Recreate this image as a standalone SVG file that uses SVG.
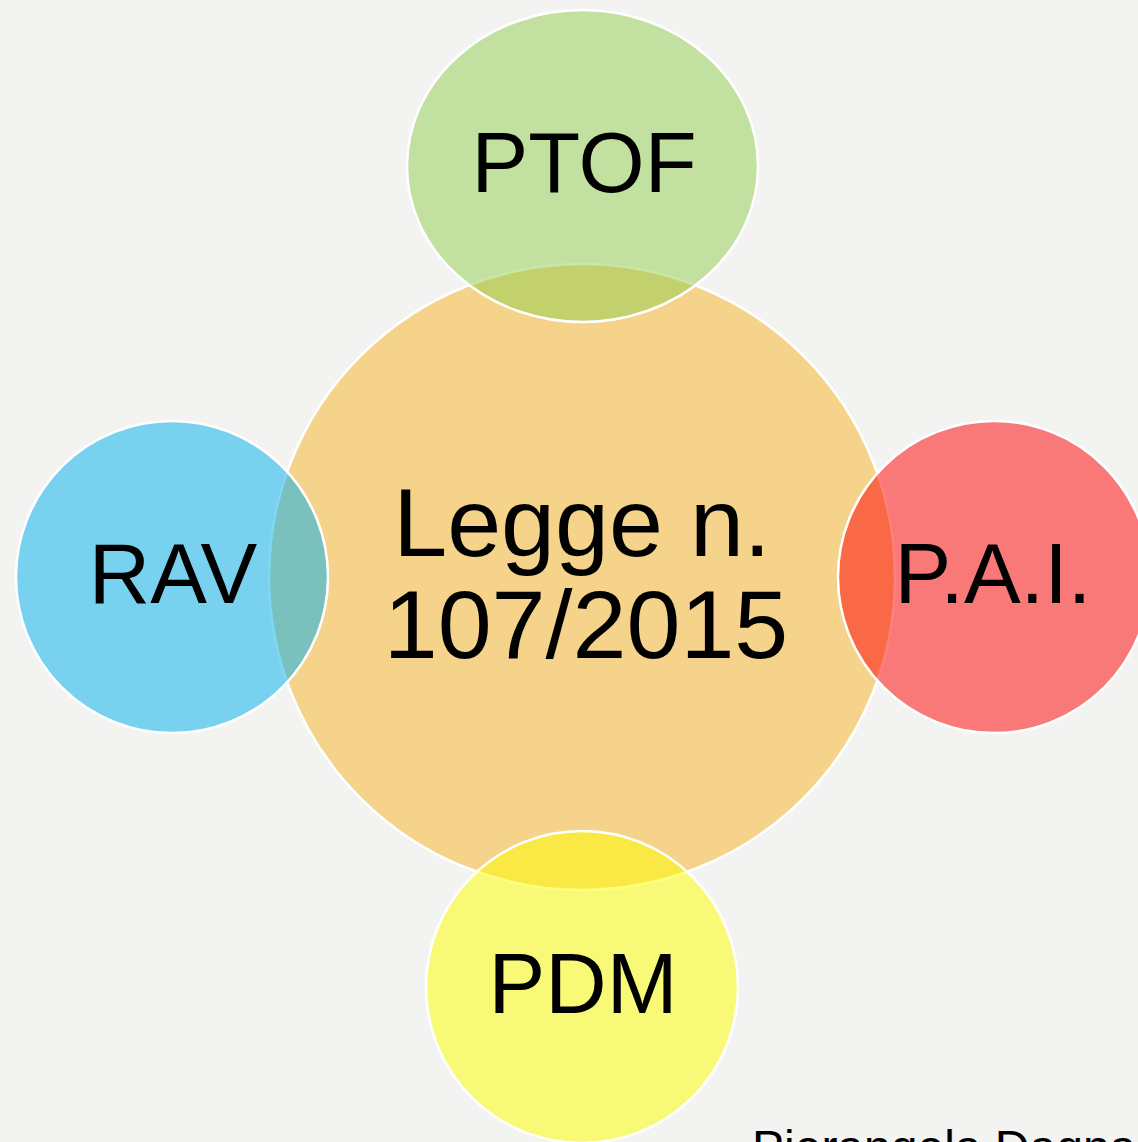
<svg xmlns="http://www.w3.org/2000/svg" width="1138" height="1142" viewBox="0 0 1138 1142">
<style>
.c{stroke:#ffffff;stroke-width:2.5}
.sat{fill-opacity:0.5}
text{font-family:"Liberation Sans",Arial,sans-serif;fill:#000000;text-anchor:middle}
</style>
<rect x="0" y="0" width="1138" height="1142" fill="#f3f3f1"/>
<g id="center">
<circle class="c" cx="582" cy="577" r="313" fill="#f5d38b"/>
<text x="582" y="556" font-size="97">Legge n.</text>
<text x="586" y="658" font-size="97">107/2015</text>
</g>
<g id="ptof">
<ellipse class="c sat" cx="582.5" cy="166" rx="175.5" ry="156" fill="#92d050"/>
<text x="584" y="192" font-size="85">PTOF</text>
</g>
<g id="rav">
<circle class="c sat" cx="172" cy="577" r="156" fill="#00b0f0"/>
<text x="173" y="603" font-size="85">RAV</text>
</g>
<g id="pai">
<circle class="c sat" cx="994" cy="577" r="156" fill="#ff0000"/>
<text x="993" y="603" font-size="85">P.A.I.</text>
</g>
<g id="pdm">
<circle class="c sat" cx="582" cy="987" r="156" fill="#ffff00"/>
<text x="583" y="1013" font-size="85">PDM</text>
</g>
<g id="connectors"/>
<text x="752" y="1164" font-size="48" style="text-anchor:start">Pierangela Dagna</text>
</svg>
